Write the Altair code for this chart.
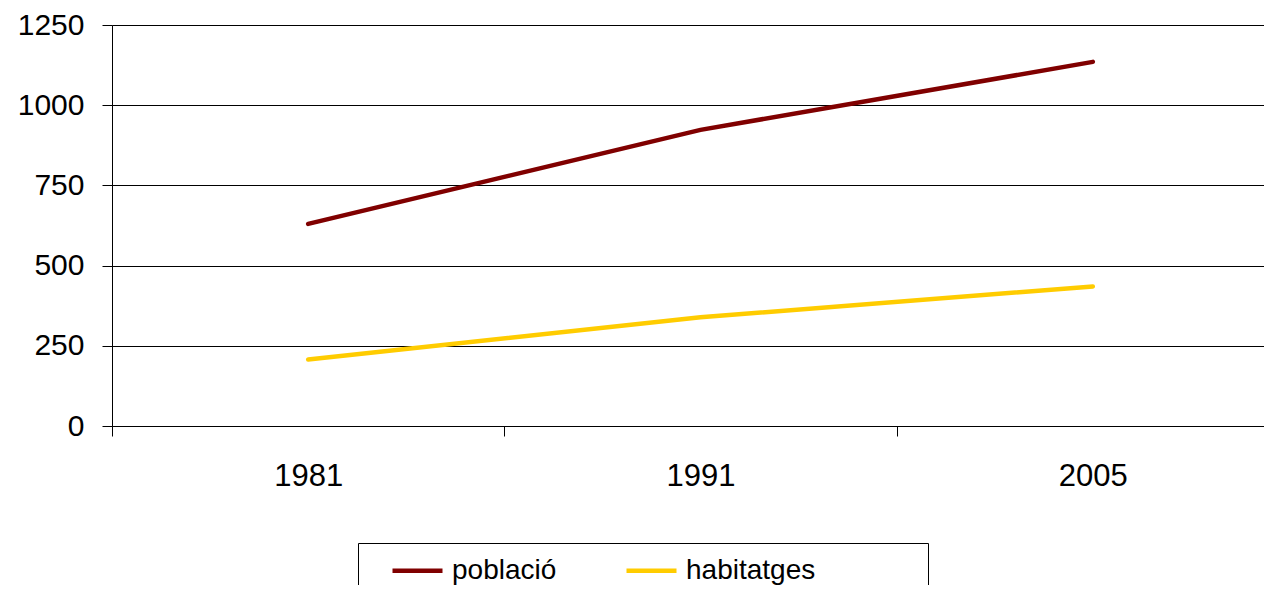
import altair as alt
import pandas as pd

years = ["1981", "1991", "2005"]
poblacio = [630, 923, 1135]
habitatges = [207, 339, 435]
series = ["població", "habitatges"]
colors = ["#800000", "#FFCC00"]
y_ticks = [0, 250, 500, 750, 1000, 1250]

rows = []
for name, vals in zip(series, [poblacio, habitatges]):
    for yr, v in zip(years, vals):
        rows.append({"any": yr, "valor": v, "serie": name})
df = pd.DataFrame(rows)

FONT = "Liberation Sans"

chart = alt.Chart(df).mark_line(strokeWidth=4.5, strokeCap="round").encode(
    x=alt.X(
        "any:N",
        sort=years,
        bandPosition=0.5,
        scale=alt.Scale(type="band", paddingInner=0, paddingOuter=0, range=[0, 1177]),
        axis=alt.Axis(
            title=None, labelAngle=0, tickBand="extent", grid=False,
            tickSize=10, labelPadding=25, labelFontSize=31, labelFont=FONT,
            labelColor="black", domainColor="black", tickColor="black",
        ),
    ),
    y=alt.Y(
        "valor:Q",
        scale=alt.Scale(domain=[0, 1250], nice=False, zero=True),
        axis=alt.Axis(
            title=None, values=y_ticks, format="d", grid=True, gridColor="black", gridWidth=1,
            tickSize=10, labelPadding=18, labelFontSize=30, labelFont=FONT,
            labelColor="black", domainColor="black", tickColor="black",
        ),
    ),
    color=alt.Color(
        "serie:N",
        sort=series,
        scale=alt.Scale(domain=series, range=colors),
        legend=alt.Legend(
            orient="none", legendX=246, legendY=518, direction="horizontal",
            title="\u00a0", titleOrient="right", titleColor="transparent",
            titleFontSize=28, titlePadding=113,
            padding=0, strokeColor="black", fillColor="white",
            symbolType="stroke", symbolStrokeWidth=4.5, symbolSize=2500,
            symbolOffset=32, labelOffset=7,
            labelFontSize=28, labelFont=FONT, labelColor="black",
            columnPadding=35,
        ),
    ),
).properties(
    width=1152,
    height=401,
    autosize=alt.AutoSizeParams(type="none"),
    padding={"left": 104, "top": 17, "right": 0, "bottom": 159},
).configure_view(stroke="transparent").configure(font=FONT)

chart.save("out.html", embed_options={"renderer": "svg", "actions": False})
